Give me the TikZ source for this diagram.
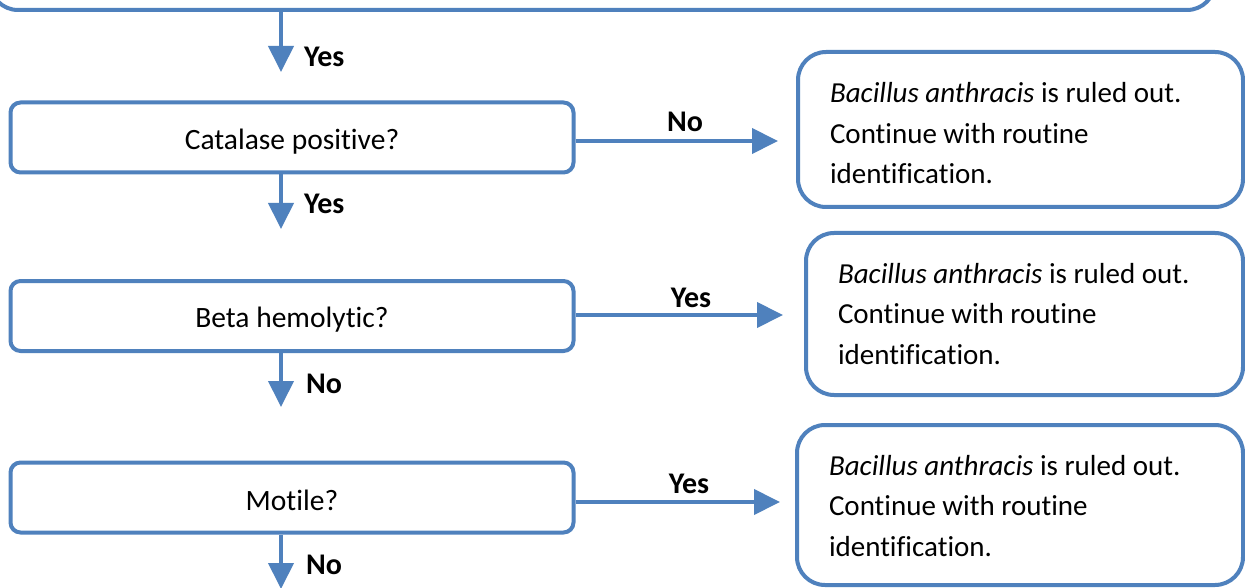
\documentclass[tikz,border=0pt]{standalone}
\usepackage{fontspec}
\setmainfont{Carlito}[Ligatures=NoCommon]
\usetikzlibrary{arrows.meta}
\definecolor{cblue}{HTML}{4F81BD}
\newcommand{\lowered}[2]{\raisebox{-#1}[\height][\depth]{#2}}
\newcommand{\resulttext}[2]{\parbox{#1}{\raggedright\textit{Bacillus anthracis} is ruled out.\\Continue with routine\\identification.}}
\begin{document}
\begin{tikzpicture}[x=1pt,y=-1pt,
  box/.style={draw=cblue, line width=4pt, rounded corners=10pt, minimum width=563pt, minimum height=70pt, inner sep=0pt, font=\fontsize{29.5}{40}\selectfont},
  rbox/.style={draw=cblue, line width=4pt, rounded corners=28pt, inner xsep=32pt, inner ysep=0pt, font=\fontsize{29}{40.5}\selectfont},
  arr/.style={draw=cblue, line width=4pt, -{Triangle[length=26pt,width=25pt]}},
  lbl/.style={font=\fontsize{30}{34}\selectfont\bfseries, inner sep=0pt}
]
\clip (0,0) rectangle (1245,588);
\fill[white] (0,0) rectangle (1245,588);

% top (cut-off) box
\node[box, minimum width=1225pt, minimum height=90pt, rounded corners=28pt] (top) at (602.5,-35) {};

% left decision boxes
\node[box] (cat) at (292,137.5) {\lowered{4pt}{Catalase positive?}};
\node[box] (beta) at (292,316) {\lowered{4pt}{Beta hemolytic?}};
\node[box] (mot) at (292,497.5) {\lowered{3pt}{Motile?}};

% right result boxes
\node[rbox, minimum height=155pt] (r1) at (1020.5,129.5)
  {\lowered{4pt}{\parbox{381pt}{\raggedright\textit{Bacillus anthracis} is ruled out.\\Continue with routine\\identification.}}};
\node[rbox, minimum height=162pt] (r2) at (1024.5,314)
  {\lowered{0pt}{\parbox{373pt}{\raggedright\textit{Bacillus anthracis} is ruled out.\\Continue with routine\\identification.}}};
\node[rbox, minimum height=160pt] (r3) at (1020,505)
  {\lowered{1pt}{\parbox{382pt}{\raggedright\textit{Bacillus anthracis} is ruled out.\\Continue with routine\\identification.}}};

% vertical arrows
\coordinate (v1) at (281,72);
\coordinate (v2) at (281,229);
\coordinate (v3) at (281,407);
\coordinate (v4) at (281,589);
\draw[arr] (v1 |- top.south) -- (v1);
\draw[arr] (v2 |- cat.south) -- (v2);
\draw[arr] (v3 |- beta.south) -- (v3);
\draw[arr] (v4 |- mot.south) -- (v4);

\node[lbl, anchor=west] (l1) at (304,57) {Yes};
\node[lbl, anchor=west] (l2) at (304,204) {Yes};
\node[lbl, anchor=west] (l3) at (306,384) {No};
\node[lbl, anchor=west] (l4) at (306,565) {No};

% horizontal arrows
\coordinate (h1) at (778,141);
\coordinate (h2) at (783,315);
\coordinate (h3) at (780,502);
\draw[arr] (cat.east |- h1) -- (h1);
\draw[arr] (beta.east |- h2) -- (h2);
\draw[arr] (mot.east |- h3) -- (h3);

\node[lbl] (l5) at (685,122) {No};
\node[lbl] (l6) at (691,298) {Yes};
\node[lbl] (l7) at (689,484) {Yes};
\end{tikzpicture}
\end{document}
